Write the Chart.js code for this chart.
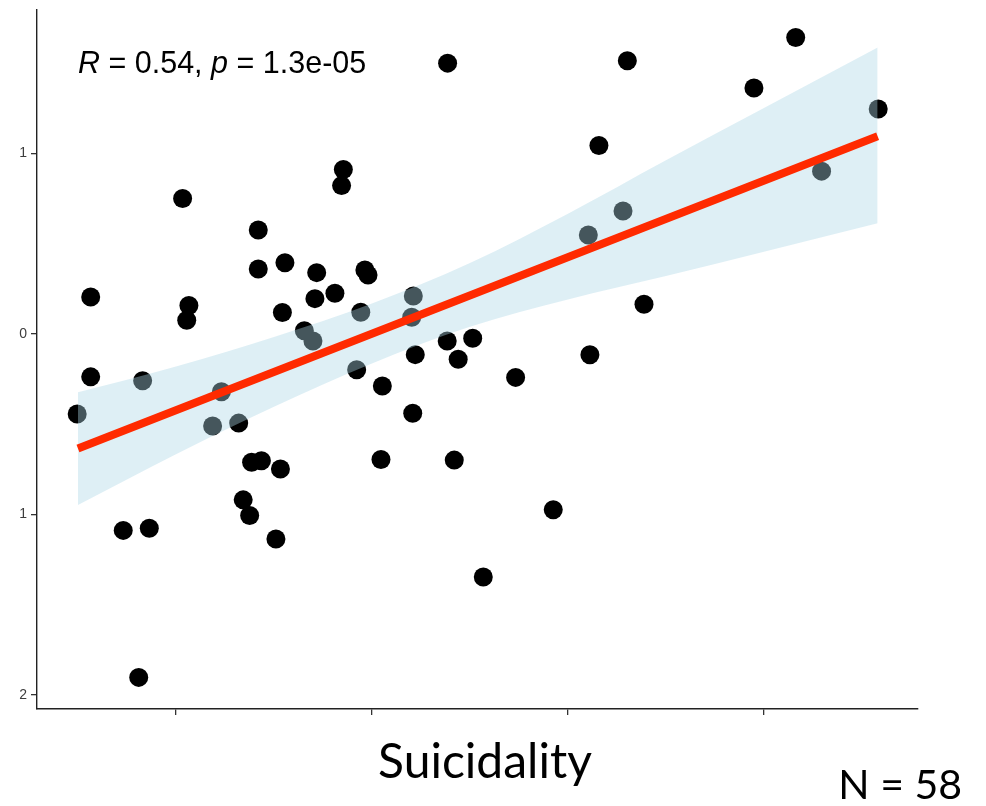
<!DOCTYPE html>
<html>
<head>
<meta charset="utf-8">
<script src="https://cdn.jsdelivr.net/npm/chart.js@4.4.1/dist/chart.umd.min.js"></script>
<style>
  html, body { margin: 0; padding: 0; background: #ffffff; }
  #wrap { position: relative; width: 986px; height: 806px; }
</style>
</head>
<body>
<div id="wrap"><canvas id="scatterChart"></canvas></div>
<script>
// suicidality score (x) vs. standardised outcome (y), one point per subject
const suicidality = [
    0.496, 0.565, 0.565, 0.731, 0.810, 0.830, 0.864, 1.034, 1.055, 1.066,
    1.187, 1.232, 1.320, 1.343, 1.376, 1.386, 1.420, 1.420, 1.436, 1.510,
    1.533, 1.543, 1.556, 1.655, 1.699, 1.709, 1.718, 1.811, 1.845, 1.854,
    1.922, 1.943, 1.964, 1.980, 2.046, 2.053, 2.211, 2.203, 2.208, 2.221,
    2.386, 2.384, 2.420, 2.440, 2.514, 2.568, 2.733, 2.925, 3.104, 3.112,
    3.158, 3.281, 3.303, 3.388, 3.949, 4.162, 4.294, 4.583
];
const outcome = [
    -0.444, 0.204, -0.238, -1.088, -1.902, -0.260, -1.076, 0.750, 0.075, 0.157,
    -0.510, -0.320, -0.494, -0.919, -1.006, -0.711, 0.575, 0.359, -0.702, -1.136,
    -0.748, 0.118, 0.394, 0.017, -0.039, 0.195, 0.339, 0.225, 0.821, 0.910,
    -0.199, 0.120, 0.354, 0.326, -0.696, -0.289, 0.210, 0.092, -0.439, -0.115,
    1.499, -0.039, -0.699, -0.140, -0.024, -1.346, -0.241, -0.974, 0.547, -0.116,
    1.043, 0.680, 1.512, 0.164, 1.361, 1.641, 0.901, 1.245
];

// linear fit and its 95% confidence band
const fitX = [0.5, 4.58];
const fitY = [-0.635, 1.094];
const bandX = [0.5, 1.0, 1.5, 2.0, 2.5, 3.0, 3.5, 4.0, 4.58];
const bandUpper = [-0.323, -0.180, -0.017, 0.168, 0.392, 0.665, 0.961, 1.250, 1.586];
const bandLower = [-0.948, -0.666, -0.403, -0.164, 0.039, 0.190, 0.320, 0.455, 0.613];

const xTicks = [1, 2, 3, 4];
const yTicks = [1, 0, -1, -2];
const yTickLabels = ['1', '0', '1', '2'];

const statParts = [
    { text: 'R', italic: true },
    { text: ' = 0.54, ', italic: false },
    { text: 'p', italic: true },
    { text: ' = 1.3e-05', italic: false }
];
const xTitle = 'Suicidality';
const sampleNote = 'N = 58';

const toPoints = (xs, ys) => xs.map((x, i) => ({ x: x, y: ys[i] }));

// texts drawn on top of the plot: correlation label, axis title, sample size
const labelPlugin = {
    id: 'labels',
    afterDraw(chart) {
        const ctx = chart.ctx;
        const xs = chart.scales.x;
        ctx.save();
        ctx.fillStyle = '#000000';
        ctx.textBaseline = 'alphabetic';
        ctx.textAlign = 'left';
        let cx = xs.getPixelForValue(bandX[0]);
        statParts.forEach(p => {
            ctx.font = (p.italic ? 'italic ' : '') + '30.5px "Liberation Sans", Arial, sans-serif';
            ctx.fillText(p.text, cx, 73);
            cx += ctx.measureText(p.text).width;
        });

        ctx.font = '48px Lato, "Open Sans", sans-serif';
        ctx.textAlign = 'center';
        ctx.fillText(xTitle, 485, 778);

        ctx.font = '41px Lato, "Open Sans", sans-serif';
        ctx.textAlign = 'right';
        ctx.fillText(sampleNote, 962, 799);
        ctx.restore();
    }
};

const ctx = document.getElementById('scatterChart').getContext('2d');
new Chart(ctx, {
    type: 'scatter',
    data: {
        datasets: [
            {
                type: 'line',
                label: 'fit',
                data: toPoints(fitX, fitY),
                borderColor: '#ff2a00',
                borderWidth: 8,
                pointRadius: 0,
                fill: false
            },
            {
                type: 'line',
                label: 'upper',
                data: toPoints(bandX, bandUpper),
                borderWidth: 0,
                borderColor: 'rgba(0,0,0,0)',
                backgroundColor: 'rgba(173, 216, 230, 0.4)',
                pointRadius: 0,
                cubicInterpolationMode: 'monotone',
                fill: '+1'
            },
            {
                type: 'line',
                label: 'lower',
                data: toPoints(bandX, bandLower),
                borderWidth: 0,
                borderColor: 'rgba(0,0,0,0)',
                pointRadius: 0,
                cubicInterpolationMode: 'monotone',
                fill: false
            },
            {
                label: 'subjects',
                data: toPoints(suicidality, outcome),
                backgroundColor: '#000000',
                borderWidth: 0,
                pointRadius: 9.5,
                pointHoverRadius: 9.5
            }
        ]
    },
    options: {
        responsive: true,
        maintainAspectRatio: false,
        animation: false,
        layout: { padding: { left: 0, right: 68, top: 0, bottom: 0 } },
        plugins: {
            legend: { display: false },
            tooltip: { enabled: false }
        },
        scales: {
            x: {
                type: 'linear',
                min: 0.291,
                max: 4.786,
                afterBuildTicks: s => { s.ticks = xTicks.map(v => ({ value: v })); },
                afterFit: s => { s.height = 97; },
                grid: { drawOnChartArea: false, drawTicks: true, tickLength: 6, color: '#333333', lineWidth: 1.3 },
                border: { color: '#222222', width: 1.4 },
                ticks: { display: false }
            },
            y: {
                type: 'linear',
                min: -2.077,
                max: 1.796,
                afterBuildTicks: s => { s.ticks = yTicks.map(v => ({ value: v })); },
                afterFit: s => {
                    s.width = 37;
                    s.paddingTop = 0;
                    s.paddingBottom = 0;
                },
                grid: { drawOnChartArea: false, drawTicks: true, tickLength: 6, color: '#333333', lineWidth: 1.3 },
                border: { color: '#222222', width: 1.4 },
                ticks: {
                    padding: 4,
                    color: '#3d3d3d',
                    font: { family: '"Liberation Sans", Arial, sans-serif', size: 14, lineHeight: 0.5 },
                    callback: v => yTickLabels[yTicks.indexOf(v)]
                }
            }
        }
    },
    plugins: [labelPlugin]
});
</script>
</body>
</html>
